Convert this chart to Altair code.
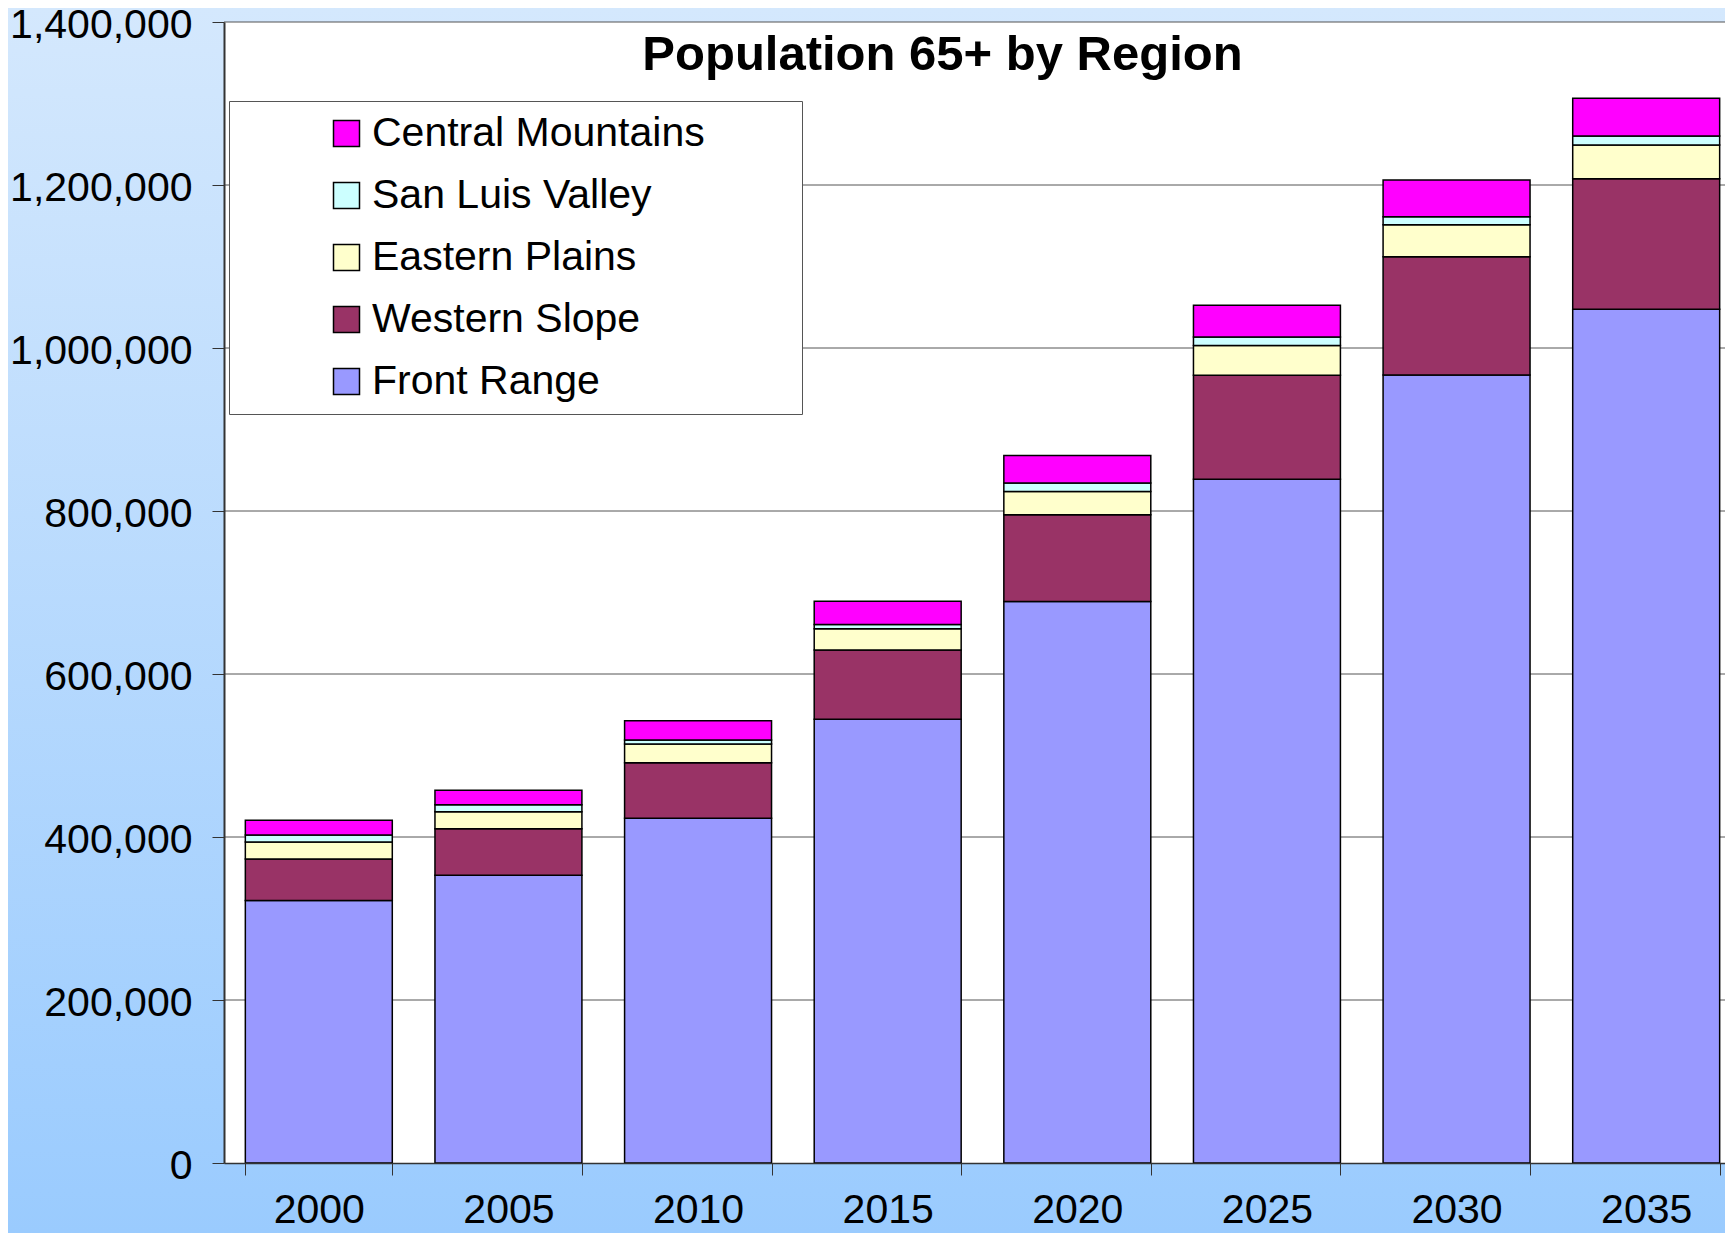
import altair as alt
import pandas as pd

years = ["2000", "2005", "2010", "2015", "2020", "2025", "2030", "2035"]
front_range = [322000, 353000, 423000, 544600, 689000, 839000, 967000, 1047500]
western_slope = [51000, 57000, 68000, 84700, 106500, 127500, 145000, 160300]
eastern_plains = [21000, 21000, 23000, 26100, 28500, 36500, 39300, 41300]
san_luis_valley = [8500, 8500, 5000, 5400, 10500, 10500, 9800, 11100]
central_mountains = [18000, 18000, 23500, 28600, 33500, 39000, 45000, 46200]

regions = ["Central Mountains", "San Luis Valley", "Eastern Plains", "Western Slope", "Front Range"]
region_colors = ["#ff00ff", "#ccffff", "#ffffcc", "#993366", "#9999ff"]
series = {
    "Front Range": front_range,
    "Western Slope": western_slope,
    "Eastern Plains": eastern_plains,
    "San Luis Valley": san_luis_valley,
    "Central Mountains": central_mountains,
}
stack_order = {"Front Range": 0, "Western Slope": 1, "Eastern Plains": 2,
               "San Luis Valley": 3, "Central Mountains": 4}
y_ticks = [0, 200000, 400000, 600000, 800000, 1000000, 1200000, 1400000]

rows = []
for name, vals in series.items():
    for yr, v in zip(years, vals):
        rows.append({"Year": yr, "Region": name, "Population": v, "order": stack_order[name]})
df = pd.DataFrame(rows)
grid_df = pd.DataFrame({"Population": y_ticks[1:]})

W, H = 1501, 1141
PL, PT, PB = 216, 14, 70
FONT = "Liberation Sans"

one = alt.Data(values=[{}])

bg = alt.Chart(one).mark_rect(
    color=alt.LinearGradient(
        gradient="linear",
        stops=[alt.GradientStop(color="#d4e8fd", offset=0),
               alt.GradientStop(color="#9acbfe", offset=1)],
        x1=0, x2=0, y1=0, y2=1,
    )
).encode(x=alt.value(-PL), x2=alt.value(W), y=alt.value(-PT), y2=alt.value(H + PB))

plotbg = alt.Chart(one).mark_rect(color="white").encode(
    x=alt.value(0), x2=alt.value(W), y=alt.value(0), y2=alt.value(H)
)

yscale = alt.Scale(domain=[0, 1400000], nice=False)
y_axis = alt.Axis(title=None, values=y_ticks, format=",.0f", labelFontSize=41,
                  labelFont=FONT, labelColor="black", tickSize=12, labelLimit=400,
                  tickColor="#333333", domainColor="#333333", domainWidth=2,
                  labelPadding=20, labelOffset=3, grid=False, zindex=1)

grid = alt.Chart(grid_df).mark_rule(color="#555555", strokeWidth=1).encode(
    y=alt.Y("Population:Q", scale=yscale, axis=y_axis)
)

bars = alt.Chart(df).mark_bar(stroke="black", strokeWidth=1.5, opacity=1).encode(
    x=alt.X("Year:N", sort=years,
            scale=alt.Scale(range=[0, 1517], paddingInner=0.225, paddingOuter=0.1125),
            axis=alt.Axis(title=None, labelAngle=0, labelFontSize=41, labelFont=FONT,
                          labelColor="black", tickSize=12, tickBand="extent",
                          tickColor="#333333", domainColor="#333333", domainWidth=1.5,
                          labelPadding=15, zindex=1, grid=False)),
    y=alt.Y("Population:Q", stack="zero", scale=yscale, axis=y_axis),
    color=alt.Color("Region:N",
                    scale=alt.Scale(domain=regions, range=region_colors),
                    legend=alt.Legend(
                        title="\u00a0", titleOrient="right", titlePadding=85, titleFontSize=20,
                        orient="none", legendX=5, legendY=79,
                        padding=12, strokeColor="#555555", fillColor="white",
                        symbolType="square", symbolSize=676, symbolStrokeColor="black",
                        symbolStrokeWidth=1.5, symbolOffset=85, labelOffset=5,
                        labelFontSize=41, labelFont=FONT, labelColor="black",
                        labelLimit=600, rowPadding=20)),
    order=alt.Order("order:Q", sort="ascending"),
)

chart = alt.layer(bg, plotbg, grid, bars).properties(
    width=W, height=H,
    padding={"left": PL, "right": 0, "top": PT, "bottom": PB},
    autosize=alt.AutoSizeParams(type="none"),
    title=alt.TitleParams(text="Population 65+ by Region", fontSize=49, font=FONT,
                          fontWeight="bold", color="black", anchor="middle",
                          frame="group", dx=-32, dy=115, offset=0, baseline="alphabetic"),
).configure_view(stroke=None).configure(background="white")

chart.save("out.html", embed_options={"renderer": "svg", "actions": False})
